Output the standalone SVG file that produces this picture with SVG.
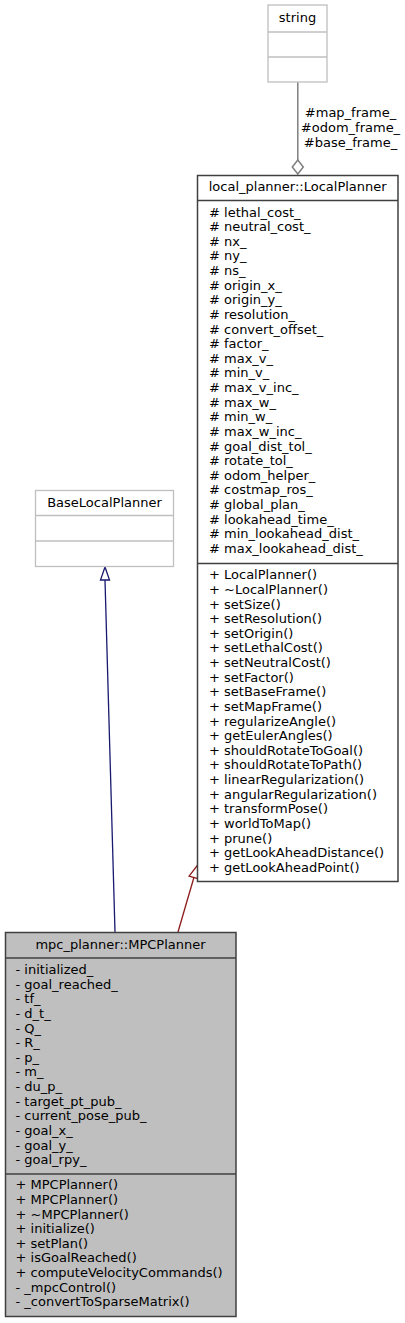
<svg xmlns="http://www.w3.org/2000/svg" width="405" height="1323" viewBox="0 0 405 1323">
<style>
text{font-family:"DejaVu Sans",sans-serif;font-size:13px;fill:#000}
.c{text-anchor:middle}
.lt{fill:#fff;stroke:#bfbfbf;stroke-width:1.3}
.dk{fill:#fff;stroke:#404040;stroke-width:1.5}
.cur{fill:#bfbfbf;stroke:#404040;stroke-width:1.5}
.ll{stroke:#bfbfbf;stroke-width:1.3}
.dl{stroke:#404040;stroke-width:1.5}
</style>
<rect width="405" height="1323" fill="#fff"/>
<g id="connectors" fill="none">
  <path d="M297.8,82 L297.8,160" stroke="#7f7f7f" stroke-width="1.5"/>
  <polygon points="297.8,160 303.3,167 297.8,174 292.3,167" fill="#fff" stroke="#7f7f7f" stroke-width="1.5"/>
  <text class="c" x="350.5" y="117.3">#map_frame_</text>
  <text class="c" x="350.5" y="132">#odom_frame_</text>
  <text class="c" x="350.5" y="146.7">#base_frame_</text>
  <path d="M115,932 L105,580" stroke="#191970" stroke-width="1.3"/>
  <polygon points="105,567 109.5,580 100.5,580" fill="#fff" stroke="#191970" stroke-width="1.3"/>
  <path d="M178,932 L193.9,877.5" stroke="#8b1a1a" stroke-width="1.3"/>
  <polygon points="197.6,865 198.7,878.9 189.1,876.1" fill="#fff" stroke="#8b1a1a" stroke-width="1.3"/>
</g>
<g id="string">
  <rect class="lt" x="268" y="5" width="59" height="77"/>
  <line class="ll" x1="268" y1="32" x2="327" y2="32"/>
  <line class="ll" x1="268" y1="57" x2="327" y2="57"/>
  <text class="c" x="297.5" y="21.5">string</text>
</g>
<g id="BaseLocalPlanner">
  <rect class="lt" x="35.5" y="490.5" width="138" height="76"/>
  <line class="ll" x1="35.5" y1="515.5" x2="173.5" y2="515.5"/>
  <line class="ll" x1="35.5" y1="541" x2="173.5" y2="541"/>
  <text class="c" x="104.5" y="507.3">BaseLocalPlanner</text>
</g>
<g id="LocalPlanner">
  <rect class="dk" x="197.5" y="175.5" width="200.5" height="706"/>
  <line class="dl" x1="197.5" y1="200.5" x2="398" y2="200.5"/>
  <line class="dl" x1="197.5" y1="563.5" x2="398" y2="563.5"/>
  <text class="c" x="297.7" y="190.8">local_planner::LocalPlanner</text>
  <text x="209" y="216.5"><tspan x="209"># lethal_cost_</tspan><tspan x="209" dy="14.63"># neutral_cost_</tspan><tspan x="209" dy="14.63"># nx_</tspan><tspan x="209" dy="14.63"># ny_</tspan><tspan x="209" dy="14.63"># ns_</tspan><tspan x="209" dy="14.63"># origin_x_</tspan><tspan x="209" dy="14.63"># origin_y_</tspan><tspan x="209" dy="14.63"># resolution_</tspan><tspan x="209" dy="14.63"># convert_offset_</tspan><tspan x="209" dy="14.63"># factor_</tspan><tspan x="209" dy="14.63"># max_v_</tspan><tspan x="209" dy="14.63"># min_v_</tspan><tspan x="209" dy="14.63"># max_v_inc_</tspan><tspan x="209" dy="14.63"># max_w_</tspan><tspan x="209" dy="14.63"># min_w_</tspan><tspan x="209" dy="14.63"># max_w_inc_</tspan><tspan x="209" dy="14.63"># goal_dist_tol_</tspan><tspan x="209" dy="14.63"># rotate_tol_</tspan><tspan x="209" dy="14.63"># odom_helper_</tspan><tspan x="209" dy="14.63"># costmap_ros_</tspan><tspan x="209" dy="14.63"># global_plan_</tspan><tspan x="209" dy="14.63"># lookahead_time_</tspan><tspan x="209" dy="14.63"># min_lookahead_dist_</tspan><tspan x="209" dy="14.63"># max_lookahead_dist_</tspan></text>
  <text x="209" y="579.3"><tspan x="209">+ LocalPlanner()</tspan><tspan x="209" dy="14.63">+ ~LocalPlanner()</tspan><tspan x="209" dy="14.63">+ setSize()</tspan><tspan x="209" dy="14.63">+ setResolution()</tspan><tspan x="209" dy="14.63">+ setOrigin()</tspan><tspan x="209" dy="14.63">+ setLethalCost()</tspan><tspan x="209" dy="14.63">+ setNeutralCost()</tspan><tspan x="209" dy="14.63">+ setFactor()</tspan><tspan x="209" dy="14.63">+ setBaseFrame()</tspan><tspan x="209" dy="14.63">+ setMapFrame()</tspan><tspan x="209" dy="14.63">+ regularizeAngle()</tspan><tspan x="209" dy="14.63">+ getEulerAngles()</tspan><tspan x="209" dy="14.63">+ shouldRotateToGoal()</tspan><tspan x="209" dy="14.63">+ shouldRotateToPath()</tspan><tspan x="209" dy="14.63">+ linearRegularization()</tspan><tspan x="209" dy="14.63">+ angularRegularization()</tspan><tspan x="209" dy="14.63">+ transformPose()</tspan><tspan x="209" dy="14.63">+ worldToMap()</tspan><tspan x="209" dy="14.63">+ prune()</tspan><tspan x="209" dy="14.63">+ getLookAheadDistance()</tspan><tspan x="209" dy="14.63">+ getLookAheadPoint()</tspan></text>
</g>
<g id="MPCPlanner">
  <rect class="cur" x="5.5" y="932.5" width="230.5" height="384"/>
  <line class="dl" x1="5.5" y1="958" x2="236" y2="958"/>
  <line class="dl" x1="5.5" y1="1174" x2="236" y2="1174"/>
  <text class="c" x="120.5" y="949.3">mpc_planner::MPCPlanner</text>
  <text x="15.5" y="974"><tspan x="15.5">- initialized_</tspan><tspan x="15.5" dy="14.63">- goal_reached_</tspan><tspan x="15.5" dy="14.63">- tf_</tspan><tspan x="15.5" dy="14.63">- d_t_</tspan><tspan x="15.5" dy="14.63">- Q_</tspan><tspan x="15.5" dy="14.63">- R_</tspan><tspan x="15.5" dy="14.63">- p_</tspan><tspan x="15.5" dy="14.63">- m_</tspan><tspan x="15.5" dy="14.63">- du_p_</tspan><tspan x="15.5" dy="14.63">- target_pt_pub_</tspan><tspan x="15.5" dy="14.63">- current_pose_pub_</tspan><tspan x="15.5" dy="14.63">- goal_x_</tspan><tspan x="15.5" dy="14.63">- goal_y_</tspan><tspan x="15.5" dy="14.63">- goal_rpy_</tspan></text>
  <text x="15.5" y="1189.3"><tspan x="15.5">+ MPCPlanner()</tspan><tspan x="15.5" dy="14.63">+ MPCPlanner()</tspan><tspan x="15.5" dy="14.63">+ ~MPCPlanner()</tspan><tspan x="15.5" dy="14.63">+ initialize()</tspan><tspan x="15.5" dy="14.63">+ setPlan()</tspan><tspan x="15.5" dy="14.63">+ isGoalReached()</tspan><tspan x="15.5" dy="14.63">+ computeVelocityCommands()</tspan><tspan x="15.5" dy="14.63">- _mpcControl()</tspan><tspan x="15.5" dy="14.63">- _convertToSparseMatrix()</tspan></text>
</g>
</svg>
